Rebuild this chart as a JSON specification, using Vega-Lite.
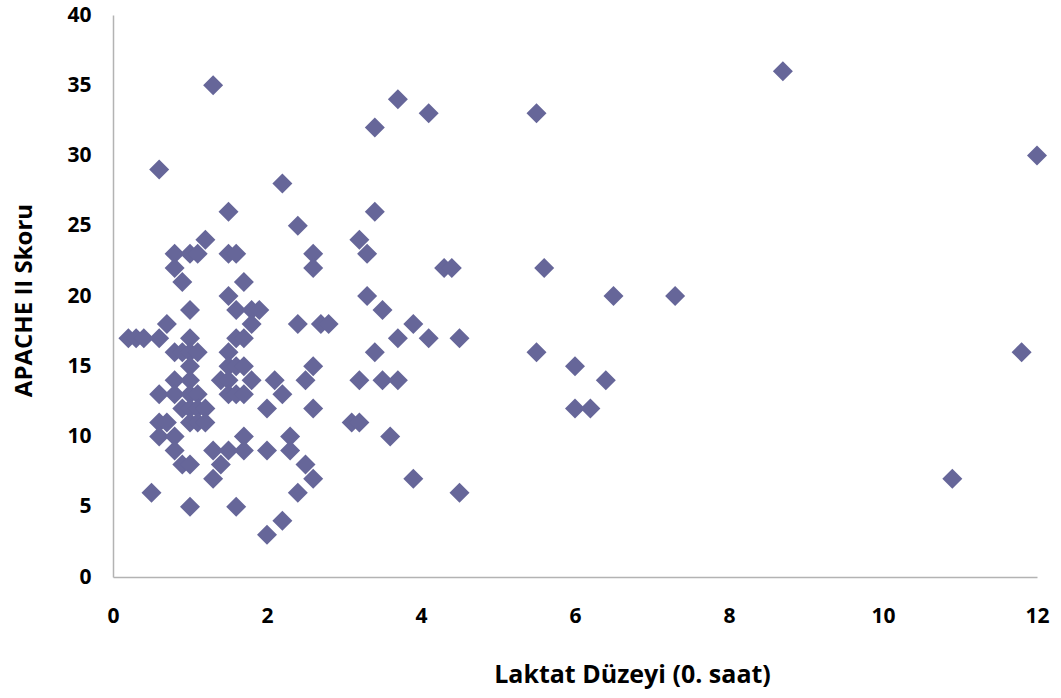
{
  "$schema": "https://vega.github.io/schema/vega-lite/v6.json",
  "width": 924,
  "height": 562,
  "autosize": {"type": "none"},
  "padding": {"left": 113, "top": 15, "right": 24, "bottom": 121},
  "background": "white",
  "config": {"view": {"stroke": null}},
  "data": {"values": [
    {"x":0.2,"y":17},{"x":0.3,"y":17},{"x":0.4,"y":17},{"x":0.6,"y":17},{"x":0.5,"y":6},
    {"x":0.6,"y":29},{"x":0.6,"y":13},{"x":0.6,"y":11},{"x":0.6,"y":10},{"x":0.7,"y":18},
    {"x":0.7,"y":11},{"x":0.8,"y":23},{"x":0.8,"y":22},{"x":0.8,"y":16},{"x":0.8,"y":14},
    {"x":0.8,"y":13},{"x":0.8,"y":10},{"x":0.8,"y":9},{"x":0.9,"y":21},{"x":0.9,"y":16},
    {"x":0.9,"y":12},{"x":0.9,"y":8},{"x":1.0,"y":23},{"x":1.0,"y":19},{"x":1.0,"y":17},
    {"x":1.0,"y":16},{"x":1.0,"y":15},{"x":1.0,"y":14},{"x":1.0,"y":13},{"x":1.0,"y":12},
    {"x":1.0,"y":11},{"x":1.0,"y":8},{"x":1.0,"y":5},{"x":1.1,"y":23},{"x":1.1,"y":16},
    {"x":1.1,"y":13},{"x":1.1,"y":12},{"x":1.1,"y":11},{"x":1.2,"y":24},{"x":1.2,"y":12},
    {"x":1.2,"y":11},{"x":1.3,"y":35},{"x":1.3,"y":9},{"x":1.3,"y":7},{"x":1.4,"y":14},
    {"x":1.4,"y":8},{"x":1.5,"y":26},{"x":1.5,"y":23},{"x":1.5,"y":20},{"x":1.5,"y":16},
    {"x":1.5,"y":15},{"x":1.5,"y":14},{"x":1.5,"y":13},{"x":1.5,"y":9},{"x":1.6,"y":23},
    {"x":1.6,"y":19},{"x":1.6,"y":17},{"x":1.6,"y":15},{"x":1.6,"y":13},{"x":1.6,"y":5},
    {"x":1.7,"y":21},{"x":1.7,"y":17},{"x":1.7,"y":15},{"x":1.7,"y":13},{"x":1.7,"y":10},
    {"x":1.7,"y":9},{"x":1.8,"y":19},{"x":1.8,"y":18},{"x":1.8,"y":14},{"x":1.9,"y":19},
    {"x":2.0,"y":12},{"x":2.0,"y":9},{"x":2.0,"y":3},{"x":2.1,"y":14},{"x":2.2,"y":28},
    {"x":2.2,"y":13},{"x":2.2,"y":4},{"x":2.3,"y":10},{"x":2.3,"y":9},{"x":2.4,"y":25},
    {"x":2.4,"y":18},{"x":2.4,"y":6},{"x":2.5,"y":14},{"x":2.5,"y":8},{"x":2.6,"y":23},
    {"x":2.6,"y":22},{"x":2.6,"y":15},{"x":2.6,"y":12},{"x":2.6,"y":7},{"x":2.7,"y":18},
    {"x":2.8,"y":18},{"x":3.1,"y":11},{"x":3.2,"y":11},{"x":3.2,"y":24},{"x":3.2,"y":14},
    {"x":3.3,"y":23},{"x":3.3,"y":20},{"x":3.4,"y":32},{"x":3.4,"y":26},{"x":3.4,"y":16},
    {"x":3.5,"y":19},{"x":3.5,"y":14},{"x":3.6,"y":10},{"x":3.7,"y":34},{"x":3.7,"y":17},
    {"x":3.7,"y":14},{"x":3.9,"y":18},{"x":3.9,"y":7},{"x":4.1,"y":33},{"x":4.1,"y":17},
    {"x":4.3,"y":22},{"x":4.4,"y":22},{"x":4.5,"y":17},{"x":4.5,"y":6},{"x":5.5,"y":33},
    {"x":5.5,"y":16},{"x":5.6,"y":22},{"x":6.0,"y":15},{"x":6.0,"y":12},{"x":6.2,"y":12},
    {"x":6.4,"y":14},{"x":6.5,"y":20},{"x":7.3,"y":20},{"x":8.7,"y":36},{"x":10.9,"y":7},
    {"x":11.8,"y":16},{"x":12.0,"y":30}
  ]},
  "mark": {"type": "point", "shape": "diamond", "filled": true, "size": 400, "color": "#666699", "opacity": 1},
  "encoding": {
    "x": {
      "field": "x", "type": "quantitative",
      "scale": {"domain": [0, 12], "nice": false, "zero": true},
      "axis": {
        "title": "Laktat Düzeyi (0. saat)",
        "values": [0, 2, 4, 6, 8, 10, 12],
        "grid": false, "ticks": false, "labelFlush": false, "labelOverlap": false, "labelBound": false,
        "domainColor": "#b3b3b3", "domainWidth": 1.5,
        "labelFont": "Open Sans", "labelFontWeight": "bold", "labelFontSize": 21, "labelColor": "black",
        "labelPadding": 39, "labelBaseline": "middle",
        "titleFont": "Open Sans", "titleFontWeight": "bold", "titleFontSize": 25, "titleColor": "black",
        "titleX": 519, "titleY": 97, "titleAlign": "center", "titleBaseline": "middle"
      }
    },
    "y": {
      "field": "y", "type": "quantitative",
      "scale": {"domain": [0, 40], "nice": false},
      "axis": {
        "title": "APACHE II Skoru",
        "values": [0, 5, 10, 15, 20, 25, 30, 35, 40],
        "grid": false, "ticks": false, "labelFlush": false, "labelOverlap": false, "labelBound": false,
        "domainColor": "#b3b3b3", "domainWidth": 1.5,
        "labelFont": "Open Sans", "labelFontWeight": "bold", "labelFontSize": 21, "labelColor": "black",
        "labelPadding": 22,
        "titleFont": "Open Sans", "titleFontWeight": "bold", "titleFontSize": 24, "titleColor": "black",
        "titleX": -89, "titleY": 285, "titleAngle": -90, "titleAlign": "center", "titleBaseline": "middle"
      }
    }
  }
}
